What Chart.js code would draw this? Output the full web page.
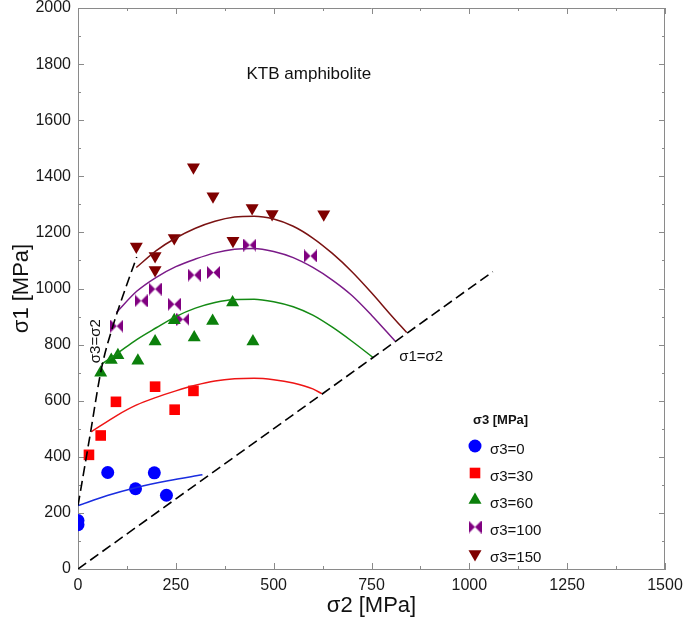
<!DOCTYPE html>
<html>
<head>
<meta charset="utf-8">
<script src="https://cdn.jsdelivr.net/npm/chart.js@4/dist/chart.umd.min.js"></script>
<style>
html,body{margin:0;padding:0;background:#fff;}
#wrap{width:685px;height:630px;}
</style>
</head>
<body>
<div id="wrap"><canvas id="c" width="685" height="630"></canvas></div>
<script>
// ---- data ----
const xTicks = [0, 250, 500, 750, 1000, 1250, 1500];
const yTicks = [0, 200, 400, 600, 800, 1000, 1200, 1400, 1600, 1800, 2000];
const seriesNames = ['σ3=0', 'σ3=30', 'σ3=60', 'σ3=100', 'σ3=150'];

const s0x = [0, 0, 76, 147, 195, 226];
const s0y = [173, 158, 344, 286, 343, 263];
const s30x = [28, 58, 97, 197, 247, 295];
const s30y = [407, 476, 596, 650, 568, 635];
const s60x = [58, 85, 102, 153, 197, 246, 297, 344, 395, 447];
const s60y = [700, 745, 762, 742, 811, 887, 825, 884, 950, 811];
const s100x = [99, 161, 197, 246, 268, 297, 346, 439, 594];
const s100y = [866, 956, 998, 944, 890, 1048, 1057, 1155, 1116];
const s150x = [149, 197, 197, 246, 295, 345, 396, 445, 496, 628];
const s150y = [1150, 1116, 1066, 1180, 1432, 1329, 1170, 1287, 1266, 1265];

// fitted curves
const f0x = [0, 75, 147, 230, 318];
const f0y = [226, 262, 290, 315, 336];
const f30x = [34, 100, 150, 200, 250, 300, 350, 400, 450, 500, 550, 600, 623];
const f30y = [489, 548, 585, 612, 635, 655, 670, 678, 680, 675, 663, 642, 625];
const f60x = [60, 100, 150, 200, 250, 300, 350, 400, 450, 500, 550, 600, 650, 700, 755];
const f60y = [730, 768, 818, 860, 900, 930, 950, 961, 962, 953, 935, 905, 862, 812, 753];
const f100x = [98, 150, 200, 250, 300, 350, 400, 450, 500, 550, 600, 650, 700, 750, 810];
const f100y = [914, 990, 1040, 1078, 1105, 1127, 1140, 1143, 1132, 1110, 1075, 1030, 975, 905, 813];
const f150x = [149, 200, 250, 300, 350, 400, 450, 500, 550, 600, 650, 700, 750, 800, 840];
const f150y = [1075, 1135, 1180, 1215, 1240, 1255, 1258, 1248, 1222, 1180, 1125, 1060, 985, 905, 843];

// reference lines
const eqX = [0, 1060];          // σ1 = σ2
const eqY = [0, 1060];
const s32x = [0, 30, 60, 90, 120, 150];   // σ3 = σ2
const s32y = [226, 470, 715, 870, 995, 1112];

const pts = (xs, ys) => xs.map((x, i) => ({x: x, y: ys[i]}));

// bowtie marker
function bowtie(color) {
  const c = document.createElement('canvas');
  c.width = 13; c.height = 13;
  const g = c.getContext('2d');
  g.fillStyle = color;
  g.beginPath(); g.moveTo(0, 0); g.lineTo(6.5, 6.5); g.lineTo(0, 13); g.closePath(); g.fill();
  g.beginPath(); g.moveTo(13, 0); g.lineTo(6.5, 6.5); g.lineTo(13, 13); g.closePath(); g.fill();
  return c;
}

const cBlue = '#0000ff', cRed = '#ff0000', cGreen = '#0b800b', cPurple = '#800080', cBrown = '#7f0000';
const bow = bowtie(cPurple);

const markerStyles = [
  {style: 'circle', radius: 6.5, rotation: 0, color: cBlue},
  {style: 'rect', radius: 7.5, rotation: 0, color: cRed},
  {style: 'triangle', radius: 7.5, rotation: 0, color: cGreen},
  {style: bow, radius: 6, rotation: 0, color: cPurple},
  {style: 'triangle', radius: 7.5, rotation: 180, color: cBrown}
];

function scatterDs(label, data, m) {
  return {label: label, data: data, showLine: false, pointStyle: m.style, pointRadius: m.radius,
    pointRotation: m.rotation, backgroundColor: m.color, borderColor: m.color, pointBorderWidth: 0,
    pointHoverRadius: m.radius, isMarker: true};
}
function curveDs(data, color, dash) {
  return {label: '', data: data, showLine: true, pointRadius: 0, pointHoverRadius: 0,
    borderColor: color, borderWidth: dash ? 1.6 : 1.5, borderDash: dash || [],
    cubicInterpolationMode: 'monotone', backgroundColor: color, fill: false};
}

const datasets = [
  curveDs(pts(eqX, eqY), '#000', [10, 5]),
  curveDs(pts(s32x, s32y), '#000', [10, 5]),
  curveDs(pts(f0x, f0y), '#1a2de0'),
  curveDs(pts(f30x, f30y), '#ee1515'),
  curveDs(pts(f60x, f60y), '#148a14'),
  curveDs(pts(f100x, f100y), '#7a1a88'),
  curveDs(pts(f150x, f150y), '#7a1212'),
  scatterDs(seriesNames[0], pts(s0x, s0y), markerStyles[0]),
  scatterDs(seriesNames[1], pts(s30x, s30y), markerStyles[1]),
  scatterDs(seriesNames[2], pts(s60x, s60y), markerStyles[2]),
  scatterDs(seriesNames[3], pts(s100x, s100y), markerStyles[3]),
  scatterDs(seriesNames[4], pts(s150x, s150y), markerStyles[4])
];

const FONT = '"Liberation Sans", Arial, sans-serif';
const AXC = '#8a8a8a';

function drawMarker(ctx, m, x, y) {
  ctx.save();
  ctx.fillStyle = m.color;
  ctx.translate(x, y);
  if (m.style === 'circle') {
    ctx.beginPath(); ctx.arc(0, 0, m.radius, 0, Math.PI * 2); ctx.fill();
  } else if (m.style === 'rect') {
    const h = m.radius * Math.SQRT1_2;
    ctx.fillRect(-h, -h, 2 * h, 2 * h);
  } else if (m.style === 'triangle') {
    ctx.rotate(m.rotation * Math.PI / 180);
    const r = m.radius;
    ctx.beginPath();
    ctx.moveTo(0, -r);
    ctx.lineTo(r * Math.sin(Math.PI * 2 / 3), -r * Math.cos(Math.PI * 2 / 3));
    ctx.lineTo(-r * Math.sin(Math.PI * 2 / 3), -r * Math.cos(Math.PI * 2 / 3));
    ctx.closePath(); ctx.fill();
  } else {
    ctx.drawImage(m.style, -m.style.width / 2, -m.style.height / 2);
  }
  ctx.restore();
}

const frame = {
  id: 'frame',
  beforeDatasetsDraw(chart) {
    const {ctx, chartArea: a, scales: {x, y}} = chart;
    ctx.save();
    ctx.strokeStyle = AXC; ctx.lineWidth = 1;
    ctx.beginPath();
    ctx.moveTo(a.left, a.top + 0.5); ctx.lineTo(a.right, a.top + 0.5);
    ctx.moveTo(a.right - 0.5, a.top); ctx.lineTo(a.right - 0.5, a.bottom);
    ctx.stroke();
    ctx.beginPath();
    for (let v = 0; v <= 1500; v += 125) {
      const len = (v % 250 === 0) ? 6 : 3;
      const px = Math.round(x.getPixelForValue(v)) + 0.5;
      ctx.moveTo(px, a.bottom); ctx.lineTo(px, a.bottom - len);
      ctx.moveTo(px, a.top); ctx.lineTo(px, a.top + len);
    }
    for (let v = 0; v <= 2000; v += 100) {
      const len = (v % 200 === 0) ? 6 : 3;
      const py = Math.round(y.getPixelForValue(v)) + 0.5;
      ctx.moveTo(a.left, py); ctx.lineTo(a.left + len, py);
      ctx.moveTo(a.right, py); ctx.lineTo(a.right - len, py);
    }
    ctx.stroke();
    ctx.restore();
  },
  afterDatasetsDraw(chart) {
    const {ctx, chartArea: a, scales: {x, y}} = chart;
    ctx.save();
    ctx.fillStyle = '#111';
    ctx.textBaseline = 'middle';
    ctx.textAlign = 'center';
    ctx.font = '17px ' + FONT;
    ctx.fillText('KTB amphibolite', x.getPixelForValue(590), y.getPixelForValue(1765));
    ctx.font = '15px ' + FONT;
    ctx.fillText('σ1=σ2', x.getPixelForValue(877), y.getPixelForValue(755));
    ctx.save();
    ctx.translate(x.getPixelForValue(45), y.getPixelForValue(812));
    ctx.rotate(-Math.PI / 2);
    ctx.fillText('σ3=σ2', 0, 0);
    ctx.restore();
    // legend
    const lx = a.left + 396, ly = a.top + 412;
    ctx.textAlign = 'left';
    ctx.font = 'bold 13px ' + FONT;
    ctx.fillText('σ3 [MPa]', lx - 1, ly);
    ctx.font = '15px ' + FONT;
    const markerDs = chart.data.datasets.filter(d => d.isMarker);
    markerDs.forEach((d, i) => {
      const my = ly + 26 + 27 * i;
      drawMarker(ctx, markerStyles[i], lx + 1, my);
      ctx.fillStyle = '#111';
      ctx.fillText(d.label, lx + 16, my + 4);
    });
    ctx.restore();
  }
};

new Chart(document.getElementById('c'), {
  type: 'scatter',
  data: {datasets: datasets},
  plugins: [frame],
  options: {
    responsive: false,
    animation: false,
    events: [],
    layout: {padding: {left: 0, right: 20, top: 8, bottom: 0}},
    plugins: {legend: {display: false}, tooltip: {enabled: false}},
    scales: {
      x: {
        type: 'linear', min: 0, max: 1500,
        afterFit: s => { s.height = 61; s.paddingLeft = 0; s.paddingRight = 0; },
        afterBuildTicks: s => { s.ticks = xTicks.map(v => ({value: v})); },
        ticks: {stepSize: 250, padding: 7, color: '#1a1a1a', font: {family: FONT, size: 16},
          callback: v => String(v)},
        grid: {display: false, drawTicks: false},
        border: {display: true, color: AXC, width: 1},
        title: {display: true, text: 'σ2 [MPa]', color: '#111', font: {family: FONT, size: 22}, padding: {top: 0, bottom: 11}}
      },
      y: {
        type: 'linear', min: 0, max: 2000,
        afterFit: s => { s.width = 78; s.paddingTop = 0; s.paddingBottom = 0; },
        afterBuildTicks: s => { s.ticks = yTicks.map(v => ({value: v})); },
        ticks: {stepSize: 200, padding: 7, color: '#1a1a1a', font: {family: FONT, size: 16},
          callback: v => String(v)},
        grid: {display: false, drawTicks: false},
        border: {display: true, color: AXC, width: 1},
        title: {display: true, text: 'σ1 [MPa]', color: '#111', font: {family: FONT, size: 22}, padding: {top: 9, bottom: 0}}
      }
    }
  }
});
</script>
</body>
</html>
